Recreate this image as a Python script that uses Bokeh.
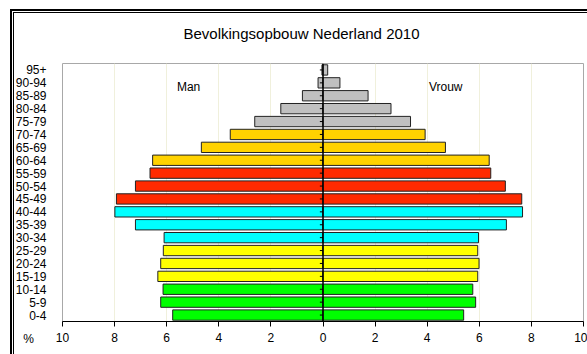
from bokeh.plotting import figure
from bokeh.models import (ColumnDataSource, FixedTicker, Span, Label)
from bokeh.embed import file_html
from bokeh.resources import INLINE

# ---- data ----
categories = ["0-4", "5-9", "10-14", "15-19", "20-24", "25-29", "30-34", "35-39",
              "40-44", "45-49", "50-54", "55-59", "60-64", "65-69", "70-74",
              "75-79", "80-84", "85-89", "90-94", "95+"]
man = [5.77, 6.23, 6.14, 6.34, 6.23, 6.13, 6.10, 7.20, 7.99, 7.93, 7.20, 6.64,
       6.54, 4.67, 3.56, 2.62, 1.62, 0.79, 0.19, 0.04]
vrouw = [5.40, 5.86, 5.75, 5.94, 5.99, 5.94, 5.97, 7.04, 7.66, 7.63, 7.00, 6.44,
         6.38, 4.70, 3.92, 3.36, 2.61, 1.73, 0.65, 0.18]
colors = ["#00FF00", "#00FF00", "#00FF00",
          "#FFFF00", "#FFFF00", "#FFFF00",
          "#00FFFF", "#00FFFF", "#00FFFF",
          "#FF2A00", "#FF2A00", "#FF2A00",
          "#FFD200", "#FFD200", "#FFD200",
          "#C0C0C0", "#C0C0C0", "#C0C0C0", "#C0C0C0", "#C0C0C0"]
x_ticks = [-10, -8, -6, -4, -2, 0, 2, 4, 6, 8, 10]
title_text = "Bevolkingsopbouw Nederland 2010"

FONT = "Liberation Sans"

idx = list(range(len(categories)))
src = ColumnDataSource(dict(
    y=idx,
    man_left=[-v for v in man],
    zero=[0] * len(idx),
    vrouw=vrouw,
    color=colors,
    tick_x0=[-0.12] * len(idx),
))

# double frame (cropped at right and bottom) drawn as CSS background behind a transparent canvas
frame_css = ("linear-gradient(#000,#000) 10px 9px / 2px 100% no-repeat, "
             "linear-gradient(#000,#000) 10px 9px / 100% 2px no-repeat, "
             "linear-gradient(#000,#000) 13px 12px / 1px 100% no-repeat, "
             "linear-gradient(#000,#000) 13px 12px / 100% 1px no-repeat, "
             "#ffffff")

p = figure(width=587, height=354, output_backend="svg", toolbar_location=None,
           x_range=(-10, 10), y_range=(-0.5, len(categories) - 0.5),
           min_border_left=62, min_border_right=4, min_border_top=63,
           min_border_bottom=33, styles={"background": frame_css})
p.background_fill_color = "white"
p.border_fill_color = None
p.outline_line_color = "#a8a8a8"
p.outline_line_width = 1

p.title.text = title_text
p.title.text_font = FONT
p.title.text_font_size = "15px"
p.title.text_font_style = "normal"
p.title.text_color = "black"
p.title.align = "left"
p.title.offset = 121
p.title.standoff = 43

# grid
p.ygrid.grid_line_color = None
p.xgrid.ticker = FixedTicker(ticks=x_ticks)
p.xgrid.grid_line_color = "#f0f0dc"
p.xgrid.grid_line_width = 1

# bars
p.hbar(y="y", left="man_left", right="zero", height=0.8, source=src,
       fill_color="color", line_color="#222222", line_width=1)
p.hbar(y="y", left="zero", right="vrouw", height=0.8, source=src,
       fill_color="color", line_color="#222222", line_width=1)

# vertical axis at 0 with small ticks
p.add_layout(Span(location=0, dimension="height", line_color="black", line_width=1.5))
p.segment(x0="tick_x0", y0="y", x1="zero", y1="y", source=src,
          line_color="black", line_width=1)

# x axis
xa = p.xaxis[0]
xa.ticker = FixedTicker(ticks=x_ticks)
xa.major_label_overrides = {t: str(abs(t)) for t in x_ticks}
xa.axis_line_color = "black"
xa.major_tick_line_color = "black"
xa.major_tick_out = 5
xa.major_tick_in = 0
xa.minor_tick_line_color = None
xa.major_label_text_font = FONT
xa.major_label_text_font_size = "12px"
xa.major_label_text_color = "black"
xa.major_label_standoff = 6

# y axis
ya = p.yaxis[0]
ya.ticker = FixedTicker(ticks=idx)
ya.major_label_overrides = {i: c for i, c in zip(idx, categories)}
ya.axis_line_color = None
ya.major_tick_line_color = None
ya.minor_tick_line_color = None
ya.major_label_text_font = FONT
ya.major_label_text_font_size = "12px"
ya.major_label_text_color = "black"
ya.major_label_standoff = 10

# annotations
p.add_layout(Label(x=-5.16, y=17.64, text="Man", text_font=FONT, text_font_size="12px",
                   text_color="black", text_align="center", text_baseline="middle"))
p.add_layout(Label(x=4.71, y=17.64, text="Vrouw", text_font=FONT, text_font_size="12px",
                   text_color="black", text_align="center", text_baseline="middle"))
# unit label outside the frame: placed in the left side panel so it is not clipped
p.add_layout(Label(x=-11.3, y=-1.82, text="%",
                   text_font=FONT, text_font_size="12px", text_color="black",
                   text_align="center", text_baseline="middle"), "left")

open("out.html", "w").write(file_html(p, INLINE))
